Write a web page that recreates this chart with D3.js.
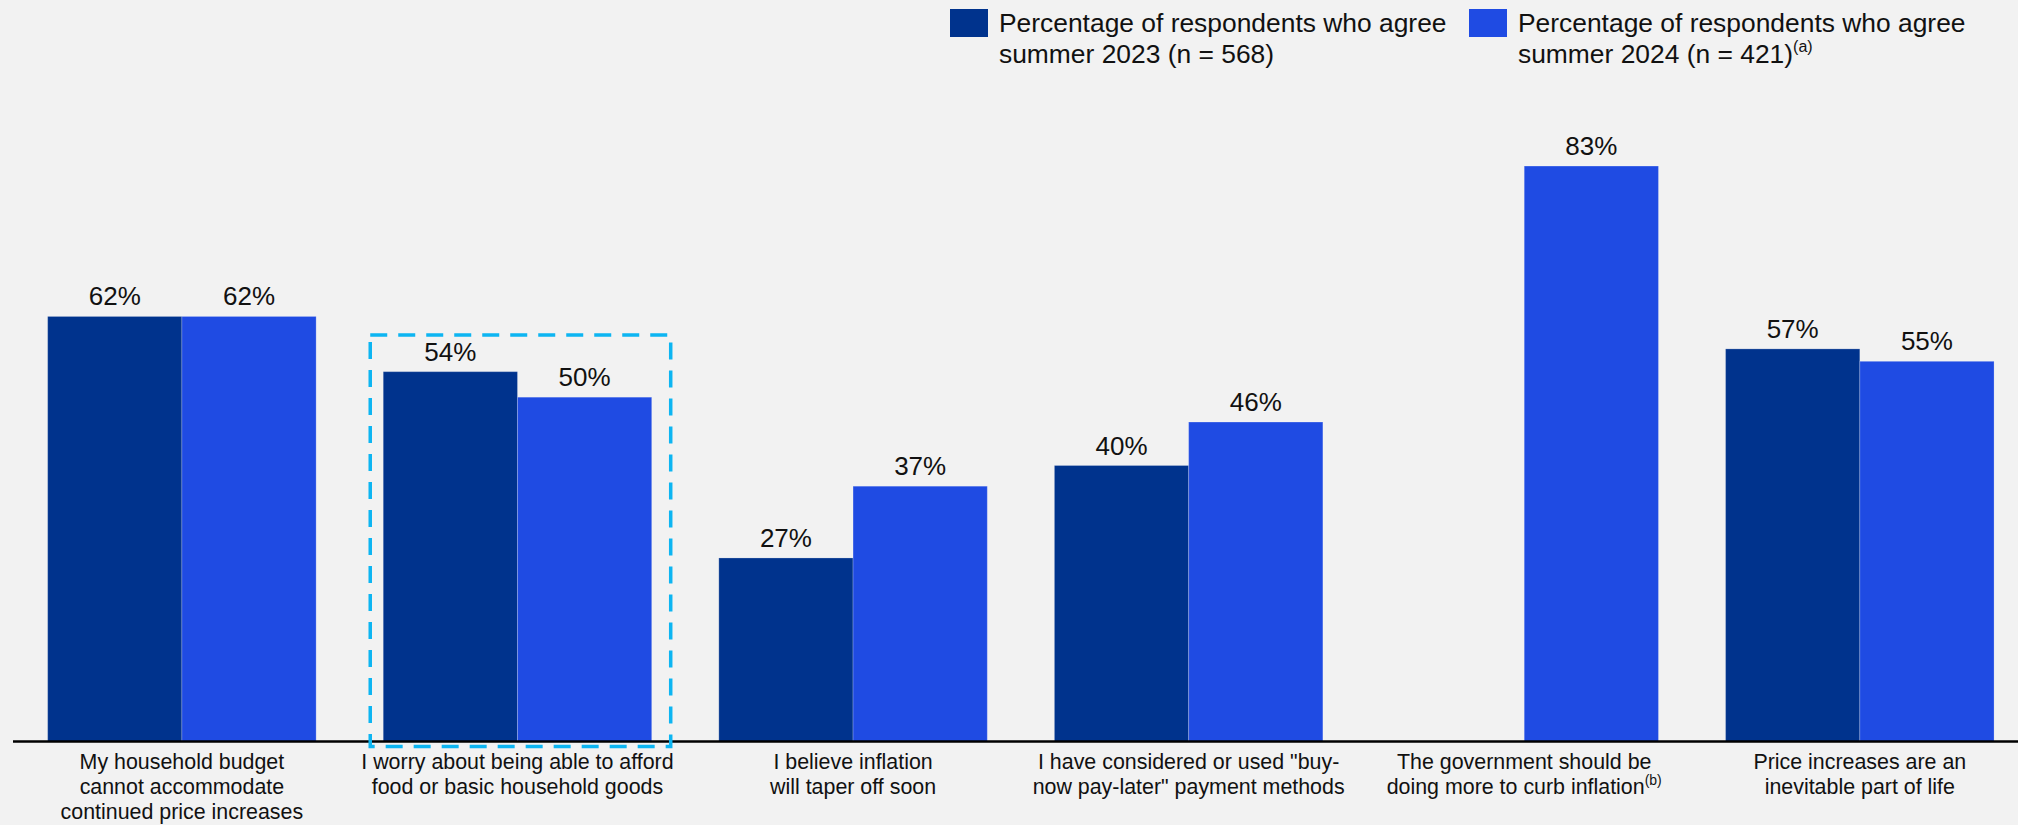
<!DOCTYPE html>
<html>
<head>
<meta charset="utf-8">
<script src="https://cdn.jsdelivr.net/npm/d3@7"></script>
<style>
  html, body { margin: 0; padding: 0; background: #F2F2F2; }
  svg { display: block; font-family: "Liberation Sans", Arial, sans-serif; }
</style>
</head>
<body>
<svg id="chart" width="2018" height="825"></svg>
<script>
// ---- data ----
const categories = [
  "budget", "worry", "taper", "bnpl", "government", "inevitable"
];
const categoryLines = [
  ["My household budget", "cannot accommodate", "continued price increases"],
  ["I worry about being able to afford", "food or basic household goods"],
  ["I believe inflation", "will taper off soon"],
  ["I have considered or used \"buy-", "now pay-later\" payment methods"],
  ["The government should be", "doing more to curb inflation"],
  ["Price increases are an", "inevitable part of life"]
];
const categoryNotes = [null, null, null, null, "(b)", null];
const seriesNames = ["2023", "2024"];
const values2023 = [61.6, 53.6, 26.6, 40.0, null, 56.9];
const values2024 = [61.6, 49.9, 37.0, 46.3, 83.4, 55.1];
const legendLines = [
  ["Percentage of respondents who agree", "summer 2023 (n = 568)"],
  ["Percentage of respondents who agree", "summer 2024 (n = 421)"]
];
const legendNotes = [null, "(a)"];
const highlightCategory = "worry";

// ---- styles ----
const colors = { "2023": "#00338D", "2024": "#1F4BE3" };
const W = 2018, H = 825;
const baseY = 741.5;

const svg = d3.select("#chart");
svg.append("rect").attr("width", W).attr("height", H).attr("fill", "#F2F2F2");

const x0 = d3.scaleBand().domain(categories).range([14.1, 2027.6])
  .paddingInner(0.2).paddingOuter(0.1);
const x1 = d3.scaleBand().domain(seriesNames).range([0, x0.bandwidth()]).padding(0);
const y = d3.scaleLinear().domain([0, 100]).range([baseY, baseY - 690]);

const rows = [];
categories.forEach((c, i) => {
  rows.push({ cat: c, series: "2023", v: values2023[i] });
  rows.push({ cat: c, series: "2024", v: values2024[i] });
});
const valid = rows.filter(d => d.v != null);

// bars
svg.append("g").selectAll("rect").data(valid).join("rect")
  .attr("x", d => x0(d.cat) + x1(d.series))
  .attr("y", d => y(d.v))
  .attr("width", x1.bandwidth())
  .attr("height", d => y(0) - y(d.v))
  .attr("fill", d => colors[d.series])
  .attr("stroke", "rgba(255,255,255,0.22)")
  .attr("stroke-width", 1);

// value labels
svg.append("g").selectAll("text").data(valid).join("text")
  .attr("x", d => x0(d.cat) + x1(d.series) + x1.bandwidth() / 2)
  .attr("y", d => y(d.v) - 11)
  .attr("text-anchor", "middle")
  .attr("font-size", 26)
  .attr("fill", "#111")
  .text(d => d3.format(".0f")(d.v) + "%");

// axis baseline
const xAxis = svg.append("g").attr("transform", `translate(0,${baseY})`)
  .call(d3.axisBottom(x0).tickSize(0).tickFormat(""));
xAxis.select(".domain").attr("d", `M13,0H${W}`).attr("stroke", "#000").attr("stroke-width", 2.5);

// category labels
const catG = svg.append("g");
categories.forEach((c, i) => {
  const cx = x0(c) + x0.bandwidth() / 2;
  const t = catG.append("text")
    .attr("text-anchor", "middle")
    .attr("font-size", 21.4)
    .attr("fill", "#111");
  categoryLines[i].forEach((line, j) => {
    t.append("tspan").attr("x", cx).attr("y", baseY + 27.8 + j * 25).text(line);
    if (j === categoryLines[i].length - 1 && categoryNotes[i]) {
      t.append("tspan").attr("font-size", 14).attr("dy", -9).text(categoryNotes[i]);
    }
  });
});

// highlight dashed box
const hx = x0(highlightCategory);
svg.append("rect")
  .attr("x", hx - 13)
  .attr("y", 335)
  .attr("width", x0.bandwidth() + 32)
  .attr("height", 746.5 - 335)
  .attr("fill", "none")
  .attr("stroke", "#0DB5F2")
  .attr("stroke-width", 3.5)
  .attr("stroke-dasharray", "17,11");

// legend
const legendX = [950, 1469];
seriesNames.forEach((s, i) => {
  const g = svg.append("g");
  g.append("rect").attr("x", legendX[i]).attr("y", 9).attr("width", 38).attr("height", 28)
    .attr("fill", colors[s]);
  const t = g.append("text").attr("font-size", 26.4).attr("fill", "#111");
  legendLines[i].forEach((line, j) => {
    t.append("tspan").attr("x", legendX[i] + 49).attr("y", 32 + j * 31.3).text(line);
  });
  if (legendNotes[i]) {
    t.append("tspan").attr("font-size", 16).attr("dy", -11).text(legendNotes[i]);
  }
});
</script>
</body>
</html>
